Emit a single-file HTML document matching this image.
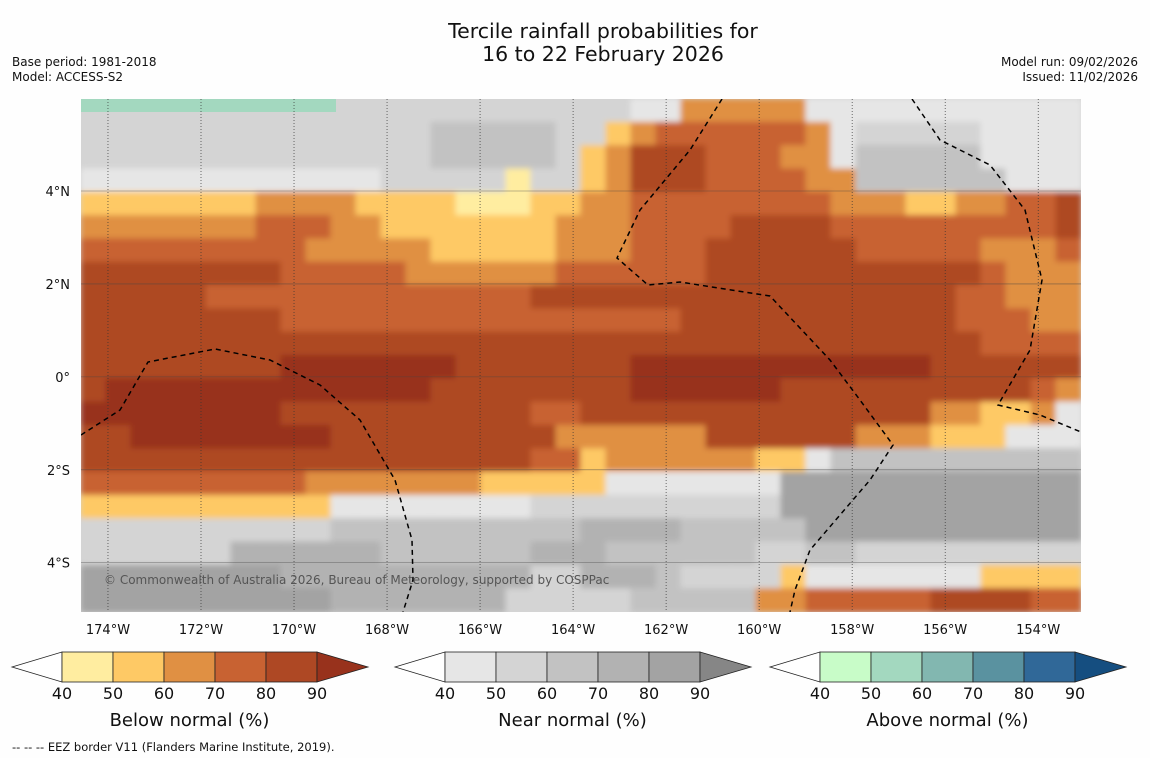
<!DOCTYPE html>
<html><head><meta charset="utf-8"><style>
body{margin:0;background:#fefefe;font-family:"DejaVu Sans","Liberation Sans",sans-serif}
svg{display:block}
</style></head><body>
<svg id="fig" width="1150" height="758" viewBox="0 0 1150 758">
<rect width="1150" height="758" fill="#fefefe"/>
<text x="603" y="38" font-size="20.5" text-anchor="middle" fill="#111">Tercile rainfall probabilities for</text>
<text x="603" y="61" font-size="20.5" text-anchor="middle" fill="#111">16 to 22 February 2026</text>
<text x="12" y="66" font-size="12" fill="#111">Base period: 1981-2018</text>
<text x="12" y="81" font-size="12" fill="#111">Model: ACCESS-S2</text>
<text x="1138" y="66" font-size="12" fill="#111" text-anchor="end">Model run: 09/02/2026</text>
<text x="1138" y="81" font-size="12" fill="#111" text-anchor="end">Issued: 11/02/2026</text>
<defs>
<clipPath id="mc"><rect x="81" y="99" width="1000" height="513"/></clipPath>
<filter id="bl" x="-5%" y="-5%" width="110%" height="110%"><feGaussianBlur stdDeviation="3"/></filter>
</defs>
<g clip-path="url(#mc)">
<rect x="81" y="99" width="1000" height="513" fill="#d4d4d4"/>
<g id="cells" filter="url(#bl)"></g>
<rect x="81" y="99" width="255" height="13" fill="#a3d8bf"/>
<g id="grid"></g>
<path d="M81,435 L120,410 L148,362 L215,349 L270,360 L320,385 L360,420 L395,480 L412,540 L413,580 L403,612" fill="none" stroke="#000" stroke-width="1.5" stroke-dasharray="5,4"/>
<path d="M722,99 L690,150 L640,210 L617,258 L648,285 L680,282 L770,296 L830,360 L860,400 L893,445 L870,480 L840,515 L810,550 L795,590 L790,612" fill="none" stroke="#000" stroke-width="1.5" stroke-dasharray="5,4"/>
<path d="M912,99 L940,140 L990,165 L1025,210 L1042,280 L1030,350 L998,405 L1040,415 L1081,432" fill="none" stroke="#000" stroke-width="1.5" stroke-dasharray="5,4"/>
<text x="104" y="584" font-size="12" fill="#555">© Commonwealth of Australia 2026, Bureau of Meteorology, supported by COSPPac</text>
</g>
<g id="axes"></g>
<g id="cbars"></g>
<text x="12" y="751" font-size="11.5" fill="#111">--  --  -- EEZ border V11 (Flanders Marine Institute, 2019).</text>
</svg>
<script>
const lonTicks=[-174,-172,-170,-168,-166,-164,-162,-160,-158,-156,-154];
const latTicks=[4,2,0,-2,-4];
const latTickLabels=["4°N","2°N","0°","2°S","4°S"];
const levelCodes="abcdefghijkp";
const levelColors=["#ffeda0","#fec965","#e09043","#c86232","#ae4824","#98321c","#e6e6e6","#d4d4d4","#c2c2c2","#b2b2b2","#a3a3a3","#a3d8bf"];
const gridRows=[
"hhhhhhhhhhhhhhhhhhhhhhggcccccggggggggggg",
"hhhhhhhhhhhhhhiiiiihhbcddddddcghhhhhgggg",
"hhhhhhhhhhhhhhiiiiihbceeedddccgiiiiigggg",
"gggggggggggghhhhhahhbceeeddddcciiiiiiggg",
"bbbbbbbccccbbbbaaabbccddddddddcccbbccdde",
"cccccccdddccbbbbbbbcccddddeeeeddddddddde",
"dddddddddcccccbbbbbcccdddeeeeeedddddcccd",
"eeeeeeeedddddccccccddddddeeeeeeeeeeedccc",
"eeeeedddddddddddddeeeeeeeeeeeeeeeeeddccc",
"eeeeeeeeddddddddddddddddeeeeeeeeeeedddcc",
"eeeeeeeeeeeeeeeeeeeeeeeeeeeeeeeeeeeedddd",
"eeeeeeeefffffffeeeeeeeffffffffffffeeeeee",
"efffffffffffffeeeeeeeeffffffeeeeeeeeeedc",
"ffffffffeeeeeeeeeeddeeeeeeeeeeeeeeccbbcg",
"eeffffffffeeeeeeeeecccccceeeeeecccbbbggg",
"eeeeeeeeeeeeeeeeeeddbccccccbbgiiiiiiiiii",
"dddddddddcccccccbbbbbgggggggkkkkkkkkkkkk",
"bbbbbbbbbbgggggggghhhhhhhhhhkkkkkkkkkkkk",
"hhhhhhhhhhiiiiiiiiiijjjjiiiiikkkkkkkkkkk",
"hhhhhhjjjjjjiiiiiijjjiiiiiihhiihhhhhhhhh",
"kkkkkkkkjjjjjjjjjjhhjjjihhhhbgggggggbbbb",
"kkkkkkkkkkjjjjjjjhhhhhiiiiiccdddddeeeedd"
];
const NS="http://www.w3.org/2000/svg";
const X0=81,X1=1081,Y0=99,Y1=612,LON0=-174.58,LON1=-153.08,LAT0=5.98,LAT1=-5.06;
const xOf=lon=>X0+(lon-LON0)/(LON1-LON0)*(X1-X0);
const yOf=lat=>Y0+(lat-LAT0)/(LAT1-LAT0)*(Y1-Y0);
function mk(t,a,p){const e=document.createElementNS(NS,t);for(const k in a)e.setAttribute(k,a[k]);p.appendChild(e);return e;}
const cells=document.getElementById('cells');
const nr=gridRows.length;
gridRows.forEach((row,r)=>{
  const nc=40;const cw=(X1-X0)/nc,ch=(Y1-Y0)/nr;
  for(let c=0;c<nc;c++){
    const code=row[c]||row[row.length-1];
    const idx=levelCodes.indexOf(code);
    const el=mk('rect',{x:X0+c*cw-0.5,y:Y0+r*ch-0.5,width:cw+1,height:ch+1,fill:idx>=0?levelColors[idx]:"#fff"},cells);
    
    
  }
});
const grid=document.getElementById('grid');
lonTicks.forEach(l=>{const el=mk('line',{x1:xOf(l),x2:xOf(l),y1:Y0,y2:Y1,stroke:"#333","stroke-width":0.7,"stroke-dasharray":"1,2"},grid);

});
latTicks.forEach(l=>{const el=mk('line',{x1:X0,x2:X1,y1:yOf(l),y2:yOf(l),stroke:"#444","stroke-width":0.6,opacity:0.7},grid);

});
const axes=document.getElementById('axes');
lonTicks.forEach(l=>{const t=mk('text',{x:xOf(l),y:634,"font-size":13,"text-anchor":"middle",fill:"#111"},axes);t.textContent=Math.abs(l)+"°W";

});
latTicks.forEach((l,i)=>{const t=mk('text',{x:70,y:yOf(l)+5,"font-size":13,"text-anchor":"end",fill:"#111"},axes);t.textContent=latTickLabels[i];

});
const cbarTitles=["Below normal (%)","Near normal (%)","Above normal (%)"];
const cbarColors=[["#ffeda0","#fec965","#e09043","#c86232","#ae4824","#98321c"],["#e6e6e6","#d4d4d4","#c2c2c2","#b2b2b2","#a3a3a3","#868686"],["#c8fcc8","#a3d8bf","#82b7b0","#5a92a0","#306898","#154e80"]];
const cbarTicks=[40,50,60,70,80,90];
const cbarStarts=[12,395,770];
const cb=document.getElementById('cbars');
cbarStarts.forEach((sx,k)=>{
  const g=mk('g',{},cb);
  
  
  const bx=sx+50,w=51,y0=652,y1=682;
  mk('polygon',{points:`${sx},${(y0+y1)/2} ${bx},${y0} ${bx},${y1}`,fill:"#fff",stroke:"#222","stroke-width":0.8},g);
  for(let i=0;i<5;i++)mk('rect',{x:bx+i*w,y:y0,width:w,height:y1-y0,fill:cbarColors[k][i],stroke:"#222","stroke-width":0.8},g);
  mk('polygon',{points:`${bx+5*w},${y0} ${bx+5*w+51},${(y0+y1)/2} ${bx+5*w},${y1}`,fill:cbarColors[k][5],stroke:"#222","stroke-width":0.8},g);
  cbarTicks.forEach((v,i)=>{const t=mk('text',{x:bx+i*w,y:699,"font-size":16,"text-anchor":"middle",fill:"#111"},g);t.textContent=v;
  
  });
  const t=mk('text',{x:bx+2.5*w,y:726,"font-size":18,"text-anchor":"middle",fill:"#111"},g);t.textContent=cbarTitles[k];
  
  
});
</script>
</body></html>
